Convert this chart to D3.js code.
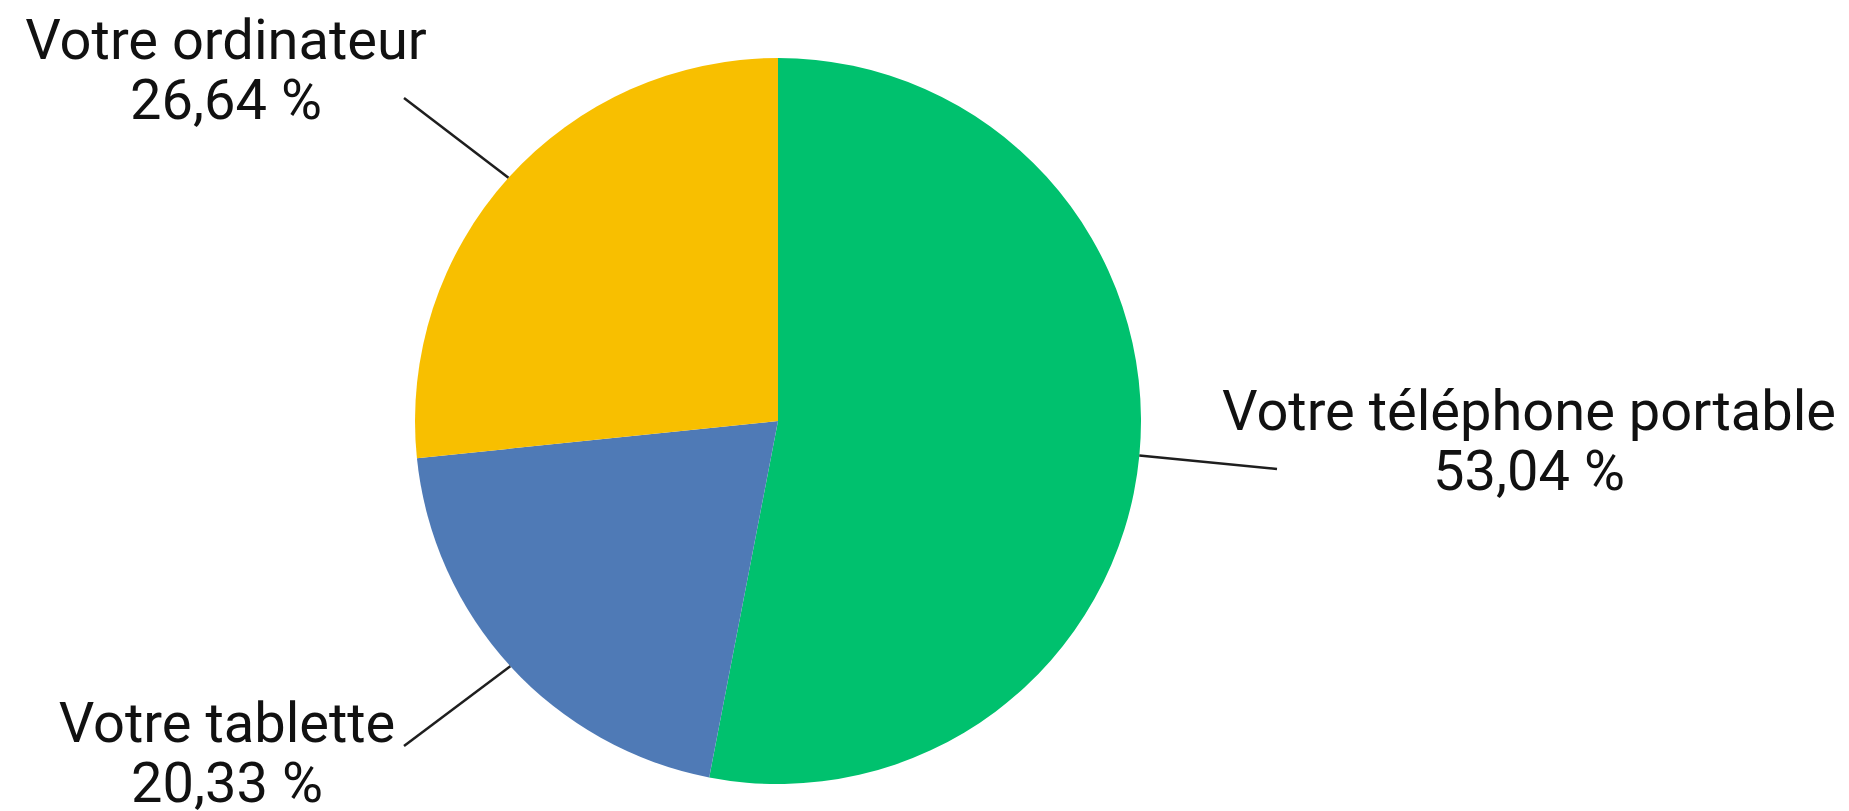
<!DOCTYPE html>
<html>
<head>
<meta charset="utf-8">
<script src="https://cdn.jsdelivr.net/npm/d3@7"></script>
<style>
  html, body { margin: 0; padding: 0; background: #ffffff; }
  svg { display: block; }
</style>
</head>
<body>
<svg id="chart" width="1849" height="811"></svg>
<script>
// Data
const categories = ["Votre téléphone portable", "Votre tablette", "Votre ordinateur"];
const values = [53.04, 20.33, 26.64];
const valueLabels = ["53,04 %", "20,33 %", "26,64 %"];
const colors = ["#00c16e", "#4f7ab6", "#f8bf00"];

const W = 1849, H = 811;
const cx = 778, cy = 421, R = 363;

// label layout (anchor point of text block, leader end point)
const labelLayout = [
  { tx: 1529, ty: 430, lx: 1277, ly: 469 },
  { tx: 227,  ty: 742, lx: 404,  ly: 746 },
  { tx: 226,  ty: 59,  lx: 404,  ly: 98 }
];

const svg = d3.select("#chart");
const g = svg.append("g").attr("transform", `translate(${cx},${cy})`);

const pie = d3.pie().sort(null).value(d => d)(values);
const arc = d3.arc().innerRadius(0).outerRadius(R);

g.selectAll("path.slice")
  .data(pie)
  .join("path")
  .attr("class", "slice")
  .attr("d", arc)
  .attr("fill", (d, i) => colors[i]);

// leader lines
pie.forEach((d, i) => {
  const a = (d.startAngle + d.endAngle) / 2;
  const sx = cx + Math.sin(a) * R;
  const sy = cy - Math.cos(a) * R;
  const L = labelLayout[i];
  svg.append("line")
    .attr("x1", sx).attr("y1", sy)
    .attr("x2", L.lx).attr("y2", L.ly)
    .attr("stroke", "#1e1e1e")
    .attr("stroke-width", 2.5);
});

// labels
categories.forEach((c, i) => {
  const L = labelLayout[i];
  const t = svg.append("text")
    .attr("x", L.tx).attr("y", L.ty)
    .attr("text-anchor", "middle")
    .attr("font-family", "Roboto, sans-serif")
    .attr("font-size", 56)
    .attr("fill", "#111");
  t.append("tspan").attr("x", L.tx).attr("dy", 0).text(c);
  t.append("tspan").attr("x", L.tx).attr("dy", 60).text(valueLabels[i]);
});
</script>
</body>
</html>
